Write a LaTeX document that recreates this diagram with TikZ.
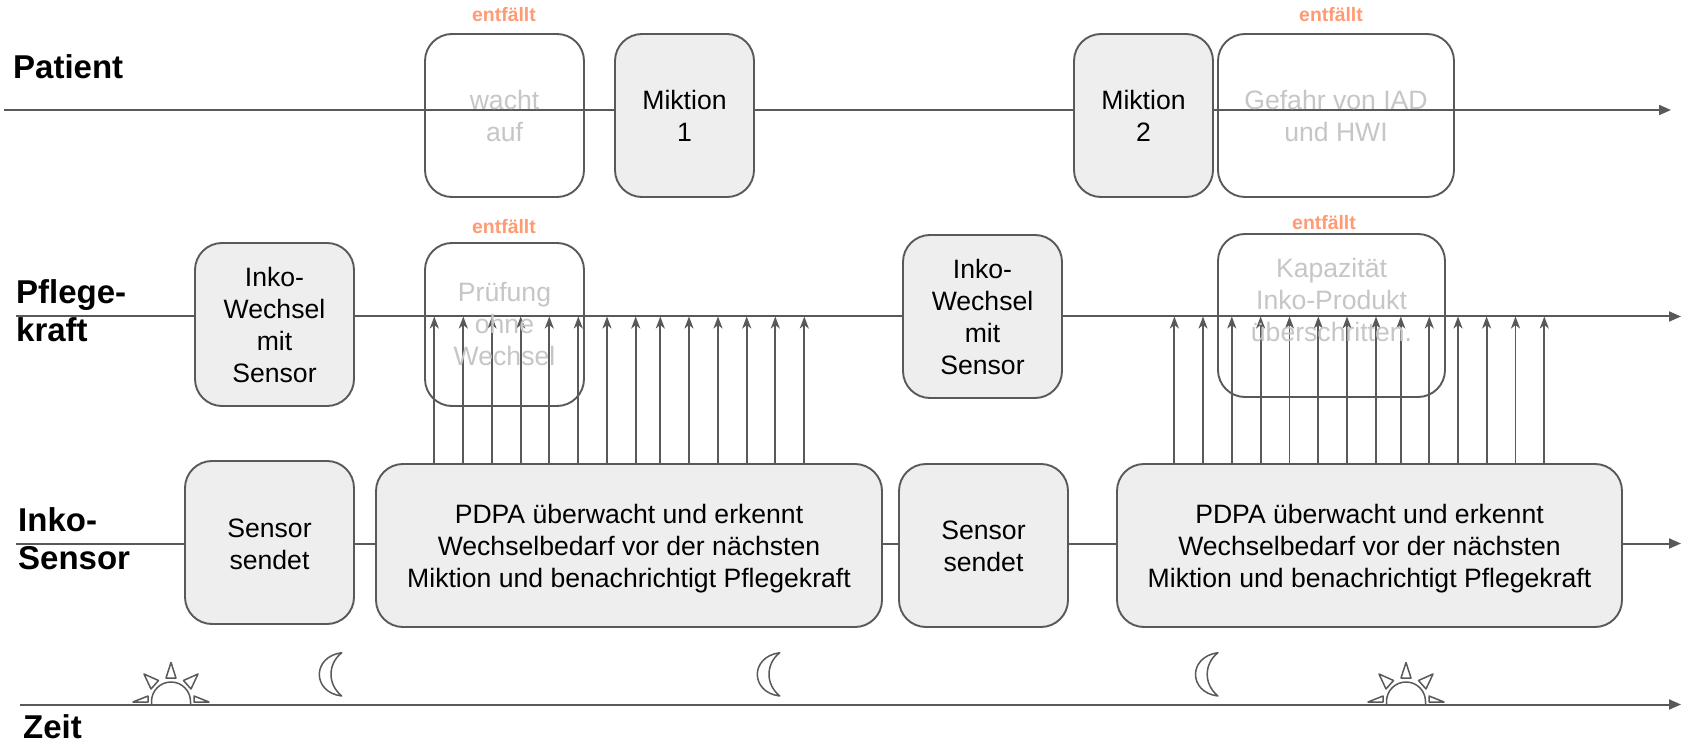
\documentclass[tikz,border=0pt]{standalone}
\usepackage{fontspec}
\setmainfont{Liberation Sans}
\usetikzlibrary{arrows.meta}
\definecolor{linegray}{HTML}{595959}
\definecolor{boxfill}{HTML}{EEEEEE}
\definecolor{fadetext}{HTML}{C6C6C6}
\definecolor{orangetext}{HTML}{FF9A73}
\tikzset{
  x=1pt,y=-1pt,
  timeline/.style={draw=linegray,line width=2pt,-{Triangle[length=12pt,width=10pt]}},
  signal/.style={draw=linegray,line width=1.9pt,-{Stealth[length=12pt,width=9pt,inset=3.5pt]}},
  basebox/.style={draw=linegray,line width=1.9pt,rounded corners=27pt,inner sep=0pt,align=center,font=\fontsize{26.6}{32}\selectfont},
  solidbox/.style={basebox,fill=boxfill,text=black},
  gonebox/.style={basebox,text=fadetext},
  dropped/.style={text=orangetext,font=\fontsize{19.4}{22}\selectfont\bfseries,inner sep=0pt},
  lane/.style={anchor=west,align=left,inner sep=0pt,text=black,font=\fontsize{33}{38}\selectfont\bfseries},
  icon/.style={draw=linegray,line width=1.5pt,line join=round},
  sunicon/.pic={
    \draw[icon] (-19.5,0) -- (-19.5,-3.5) arc[start angle=180,end angle=360,radius=19.5] -- (19.5,0);
    \draw[icon] (0,-42.5) -- (-5,-27) -- (5,-27) -- cycle;
    \draw[icon] (-27,-31) -- (-12.5,-24.5) -- (-20,-16) -- cycle;
    \draw[icon] (27,-31) -- (12.5,-24.5) -- (20,-16) -- cycle;
    \draw[icon] (-38,-3) -- (-23,-9) -- (-23,-3) -- cycle;
    \draw[icon] (38,-3) -- (23,-9) -- (23,-3) -- cycle;
  },
  moonicon/.pic={
    \draw[icon] (0,0) .. controls (-15,2) and (-22.4,12) .. (-22.4,21.7)
      .. controls (-22.4,31.5) and (-15,41.5) .. (0,43.3)
      .. controls (-7.5,37) and (-10.7,29) .. (-10.7,21.7)
      .. controls (-10.7,14) and (-7.5,6) .. (0,0) -- cycle;
  },
}
\begin{document}
\begin{tikzpicture}
\useasboundingbox (0,0) rectangle (1682,743);
\fill[white] (0,0) rectangle (1682,743);

% line ends
\coordinate (patS) at (4,110);
\coordinate (patE) at (1671,110);
\coordinate (pflS) at (16,316.5);
\coordinate (pflE) at (1681,316.5);
\coordinate (inkS) at (16,543.5);
\coordinate (inkE) at (1681,543.5);
\coordinate (zeiS) at (20,704.5);
\coordinate (zeiE) at (1681,704.5);

\draw[timeline] (patS) -- (patE);
\draw[timeline] (pflS) -- (pflE);
\draw[timeline] (inkS) -- (inkE);
\draw[timeline] (zeiS) -- (zeiE);

% lane labels
\node[lane] (lPat) at (13,66.5) {Patient};
\node[lane] (lPfl) at (16,311) {Pflege-\\kraft};
\node[lane] (lInk) at (18,539) {Inko-\\Sensor};
\node[lane] (lZei) at (23,726.5) {Zeit};

% patient
\node[gonebox,minimum width=159pt,minimum height=163pt] (wacht) at (504.5,115.5) {wacht\\auf};
\node[solidbox,minimum width=139pt,minimum height=163pt] (mik1) at (684.5,115.5) {Miktion\\1};
\node[solidbox,minimum width=139pt,minimum height=163pt] (mik2) at (1143.5,115.5) {Miktion\\2};
\node[gonebox,minimum width=236pt,minimum height=163pt] (gefahr) at (1336,115.5) {Gefahr von IAD\\und HWI};

% sensor boxes
\node[solidbox,minimum width=169pt,minimum height=163pt] (sen1) at (269.5,542.5) {\rule{0pt}{22pt}Sensor\\sendet};
\node[solidbox,minimum width=506pt,minimum height=163pt] (pdpaA) at (629,545.5) {\rule{0pt}{26pt}PDPA überwacht und erkennt\\Wechselbedarf vor der nächsten\\Miktion und benachrichtigt Pflegekraft};
\node[solidbox,minimum width=169pt,minimum height=163pt] (sen2) at (983.5,545.5) {\rule{0pt}{21pt}Sensor\\sendet};
\node[solidbox,minimum width=505pt,minimum height=163pt] (pdpaB) at (1369.5,545.5) {\rule{0pt}{26pt}PDPA überwacht und erkennt\\Wechselbedarf vor der nächsten\\Miktion und benachrichtigt Pflegekraft};

% care boxes
\node[solidbox,minimum width=159pt,minimum height=163pt] (wech1) at (274.5,324.5) {Inko-\\Wechsel\\mit\\Sensor};
\node[solidbox,minimum width=159pt,minimum height=163pt] (wech2) at (982.5,316.5) {Inko-\\Wechsel\\mit\\Sensor};

% signals
\foreach \i/\x in {1/434.3,2/463.3,3/492,4/520.7,5/549.3,6/578.3,7/607,8/635.7,9/660.3,10/689,11/718,12/746.7,13/775.3,14/804.3}{
  \coordinate (a\i) at (\x,0);
  \draw[signal] (a\i |- pdpaA.north) -- (a\i |- pflS);
}
\foreach \i/\x in {1/1174.4,2/1203,3/1231.8,4/1260.6,5/1289.5,6/1318.3,7/1347,8/1376,9/1400.8,10/1429.3,11/1458,12/1486.6,13/1515.5,14/1544.3}{
  \coordinate (b\i) at (\x,0);
  \draw[signal] (b\i |- pdpaB.north) -- (b\i |- pflS);
}

\node[gonebox,minimum width=159pt,minimum height=163pt] (pruef) at (504.5,324.5) {Prüfung\\ohne\\Wechsel};
\node[gonebox,minimum width=227pt,minimum height=163pt] (kapa) at (1331.5,315.5) {Kapazität\\Inko-Produkt\\überschritten.\\\mbox{}};

% dropped labels
\node[dropped] (d1) at (504,14.5) {entfällt};
\node[dropped] (d2) at (1331,14.5) {entfällt};
\node[dropped] (d3) at (504,226.5) {entfällt};
\node[dropped] (d4) at (1324,222.5) {entfällt};

% day and night
\pic at (171,705) {sunicon};
\pic at (1406,705) {sunicon};
\pic at (341.7,652.7) {moonicon};
\pic at (779.7,652.7) {moonicon};
\pic at (1217.9,652.7) {moonicon};
\end{tikzpicture}
\end{document}
